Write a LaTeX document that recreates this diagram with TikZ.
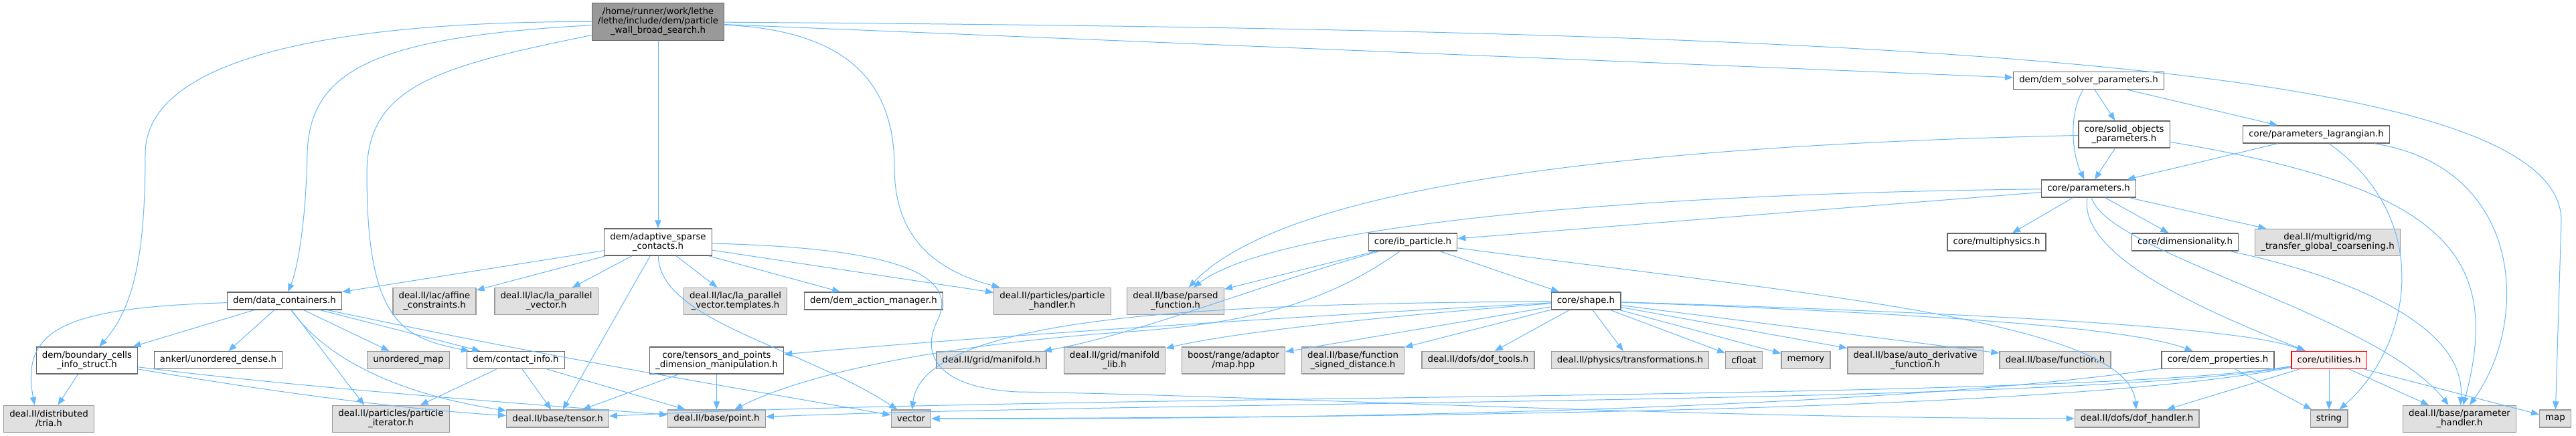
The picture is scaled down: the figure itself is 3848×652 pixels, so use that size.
\documentclass[tikz,border=0pt]{standalone}
\usepackage{fontspec}
\setmainfont{DejaVu Sans}
\usepackage{tikz}
\usetikzlibrary{arrows.meta}
\definecolor{edgeblue}{HTML}{63B8FF}
\definecolor{extfill}{HTML}{E0E0E0}
\definecolor{extline}{HTML}{999999}
\definecolor{docline}{HTML}{666666}
\definecolor{rootfill}{HTML}{999999}
\definecolor{truncfill}{HTML}{FFF0F0}
\definecolor{truncline}{HTML}{FF0000}

\begin{document}
\begin{tikzpicture}[x=0.75pt, y=-0.75pt,
  hfile/.style={draw=docline, fill=white, line width=1pt, align=center, font=\fontsize{10}{10.5}\selectfont, inner xsep=6.5pt, inner ysep=3pt, minimum height=19.5pt},
  ext/.style={hfile, draw=extline, fill=extfill},
  tall/.style={minimum height=30pt},
  dep/.style={draw=edgeblue, line width=0.75pt, -{Triangle[length=9pt, width=7pt]}}]
  \fill[white] (0,0) rectangle (3848,652);
  % top of the graph
  \node[hfile, fill=rootfill, minimum height=42pt] (root) at (983,32.5) {/home/runner/work/lethe\\/lethe/include/dem/particle\\\_wall\_broad\_search.h};
  \node[hfile] (dsp) at (3120,120.5) {dem/dem\_solver\_parameters.h};
  \node[hfile, tall] (sop) at (3173,201) {core/solid\_objects\\\_parameters.h};
  \node[hfile] (pl) at (3460,201) {core/parameters\_lagrangian.h};
  \node[hfile] (par) at (3120,282) {core/parameters.h};
  \node[hfile, tall] (asc) at (983,362) {dem/adaptive\_sparse\\\_contacts.h};
  \node[hfile] (ibp) at (2110.5,362) {core/ib\_particle.h};
  \node[hfile] (mph) at (2982.5,362) {core/multiphysics.h};
  \node[hfile] (dimh) at (3264,362) {core/dimensionality.h};
  \node[ext, tall] (mg) at (3477,362.5) {deal.II/multigrid/mg\\\_transfer\_global\_coarsening.h};
  % middle rows
  \node[hfile] (dc) at (425,450) {dem/data\_containers.h};
  \node[ext, tall] (affine) at (649,450.5) {deal.II/lac/affine\\\_constraints.h};
  \node[ext, tall] (lapv) at (816,450.5) {deal.II/lac/la\_parallel\\\_vector.h};
  \node[ext, tall] (lapvt) at (1098.5,450.5) {deal.II/lac/la\_parallel\\\_vector.templates.h};
  \node[hfile] (dam) at (1305,450) {dem/dem\_action\_manager.h};
  \node[ext, tall] (ph) at (1572,450.5) {deal.II/particles/particle\\\_handler.h};
  \node[ext, tall] (pf) at (1756,450.5) {deal.II/base/parsed\\\_function.h};
  \node[hfile] (shape) at (2369,450) {core/shape.h};
  \node[hfile, tall] (bcis) at (130,539) {dem/boundary\_cells\\\_info\_struct.h};
  \node[hfile] (ankerl) at (326,538.5) {ankerl/unordered\_dense.h};
  \node[ext] (umap) at (610,538.5) {unordered\_map};
  \node[hfile] (ci) at (770.5,538.5) {dem/contact\_info.h};
  \node[hfile, tall] (tap) at (1070.5,539) {core/tensors\_and\_points\\\_dimension\_manipulation.h};
  \node[ext] (mfd) at (1481,538.5) {deal.II/grid/manifold.h};
  \node[ext, tall] (mfdlib) at (1665,539) {deal.II/grid/manifold\\\_lib.h};
  \node[ext, tall] (bmap) at (1842.5,539) {boost/range/adaptor\\/map.hpp};
  \node[ext, tall] (fsd) at (2021,539) {deal.II/base/function\\\_signed\_distance.h};
  \node[ext] (doft) at (2208,538.5) {deal.II/dofs/dof\_tools.h};
  \node[ext] (trf) at (2435,538.5) {deal.II/physics/transformations.h};
  \node[ext] (cfl) at (2605,538.5) {cfloat};
  \node[ext] (mem) at (2697.5,538.5) {memory};
  \node[ext, tall] (adf) at (2861,539) {deal.II/base/auto\_derivative\\\_function.h};
  \node[ext] (fun) at (3070,538.5) {deal.II/base/function.h};
  \node[hfile] (demp) at (3313,538.5) {core/dem\_properties.h};
  \node[hfile, draw=truncline, fill=truncfill] (util) at (3479,538.5) {core/utilities.h};
  % bottom row
  \node[ext, tall] (tria) at (73,626.5) {deal.II/distributed\\/tria.h};
  \node[ext, tall] (pit) at (584,626.5) {deal.II/particles/particle\\\_iterator.h};
  \node[ext] (tsr) at (833,626) {deal.II/base/tensor.h};
  \node[ext] (pnt) at (1070.5,626) {deal.II/base/point.h};
  \node[ext] (vec) at (1361,626) {vector};
  \node[ext] (dofh) at (3192,626) {deal.II/dofs/dof\_handler.h};
  \node[ext] (str) at (3479,626) {string};
  \node[ext, tall] (parh) at (3674,626.5) {deal.II/base/parameter\\\_handler.h};
  \node[ext] (map) at (3817,626) {map};
  % includes of the root file
  \draw[dep] (root) .. controls (450,32) and (217,100) .. (217,230) .. controls (217,380) and (200,460) .. (bcis);
  \draw[dep] (root) .. controls (560,55) and (462,105) .. (459,230) .. controls (457,330) and (445,400) .. (dc);
  \draw[dep] (root) .. controls (650,100) and (548,130) .. (548,260) .. controls (548,480) and (600,505) .. (ci);
  \draw[dep] (root) -- (asc);
  \draw[dep] (root) .. controls (1250,45) and (1336,110) .. (1336,250) .. controls (1336,340) and (1380,400) .. (ph);
  \draw[dep] (root) -- (dsp);
  \draw[dep] (root) .. controls (2800,45) and (3826,90) .. (3826,330) -- (map);
  % parameters
  \draw[dep] (dsp) .. controls (3090,170) and (3095,230) .. (par);
  \draw[dep] (dsp) -- (sop); \draw[dep] (dsp) -- (pl);
  \draw[dep] (sop) -- (par);
  \draw[dep] (sop) .. controls (2300,220) and (1900,300) .. (pf);
  \draw[dep] (sop) .. controls (3650,280) and (3740,380) .. (parh);
  \draw[dep] (pl) -- (par);
  \draw[dep] (pl) .. controls (3640,330) and (3600,520) .. (str);
  \draw[dep] (pl) .. controls (3770,250) and (3780,480) .. (parh);
  \draw[dep] (par) .. controls (2400,290) and (1900,340) .. (pf);
  \draw[dep] (par) -- (ibp); \draw[dep] (par) -- (mph); \draw[dep] (par) -- (dimh); \draw[dep] (par) -- (mg);
  \draw[dep] (par) .. controls (3105,380) and (3280,460) .. (util);
  \draw[dep] (par) .. controls (3150,380) and (3550,470) .. (parh);
  \draw[dep] (dimh) .. controls (3450,400) and (3685,470) .. (parh);
  % ib particle and shape
  \draw[dep] (ibp) -- (shape); \draw[dep] (ibp) -- (pf);
  \draw[dep] (ibp) .. controls (1900,420) and (1700,500) .. (mfd);
  \draw[dep] (ibp) .. controls (2000,440) and (1900,480) .. (1700,495) .. controls (1400,515) and (1200,560) .. (pnt);
  \draw[dep] (ibp) .. controls (2700,440) and (3180,480) .. (dofh);
  \draw[dep] (shape) .. controls (2000,470) and (1500,500) .. (tap);
  \draw[dep] (shape) .. controls (2100,470) and (1850,495) .. (mfdlib);
  \draw[dep] (shape) -- (bmap); \draw[dep] (shape) -- (fsd); \draw[dep] (shape) -- (doft); \draw[dep] (shape) -- (trf);
  \draw[dep] (shape) -- (cfl); \draw[dep] (shape) -- (mem); \draw[dep] (shape) -- (adf); \draw[dep] (shape) -- (fun);
  \draw[dep] (shape) .. controls (2900,470) and (3180,490) .. (demp);
  \draw[dep] (shape) .. controls (3000,470) and (3350,490) .. (util);
  \draw[dep] (shape) .. controls (1900,455) and (1380,460) .. (vec);
  % adaptive sparse contacts
  \draw[dep] (asc) -- (dc); \draw[dep] (asc) -- (affine); \draw[dep] (asc) -- (lapv); \draw[dep] (asc) -- (tsr);
  \draw[dep] (asc) -- (lapvt); \draw[dep] (asc) -- (dam); \draw[dep] (asc) -- (ph);
  \draw[dep] (asc) .. controls (985,480) and (1200,520) .. (vec);
  \draw[dep] (asc) .. controls (1300,370) and (1440,400) .. (1400,480) .. controls (1375,530) and (1400,580) .. (1520,586) .. controls (1900,592) and (2500,625) .. (dofh);
  % data containers and friends
  \draw[dep] (dc) .. controls (100,460) and (30,490) .. ([xshift=-16pt]tria.north);
  \draw[dep] (dc) -- (bcis); \draw[dep] (dc) -- (ankerl); \draw[dep] (dc) -- (umap); \draw[dep] (dc) -- (ci);
  \draw[dep] (dc) -- ([xshift=-30pt]pit.north);
  \draw[dep] (dc) .. controls (490,540) and (600,590) .. (tsr);
  \draw[dep] (dc) .. controls (850,540) and (1100,580) .. (vec);
  \draw[dep] (bcis) -- (tria);
  \draw[dep] (bcis) .. controls (400,585) and (600,612) .. (tsr);
  \draw[dep] (bcis) .. controls (450,580) and (800,605) .. (pnt);
  \draw[dep] (ci) -- (pit); \draw[dep] (ci) -- (tsr); \draw[dep] (ci) -- (pnt);
  \draw[dep] (tap) -- (tsr); \draw[dep] (tap) -- (pnt);
  % utilities and dem properties
  \draw[dep] (util) -- (dofh); \draw[dep] (util) -- (str); \draw[dep] (util) -- (parh); \draw[dep] (util) -- (map);
  \draw[dep] (util) .. controls (3100,600) and (1600,588) .. (tsr);
  \draw[dep] (util) .. controls (3100,605) and (1800,598) .. (pnt);
  \draw[dep] (util) .. controls (3100,612) and (2200,624) .. (vec);
  \draw[dep] (demp) .. controls (2900,600) and (2200,628) .. (vec);
  \draw[dep] (demp) -- (str);
\end{tikzpicture}
\end{document}
